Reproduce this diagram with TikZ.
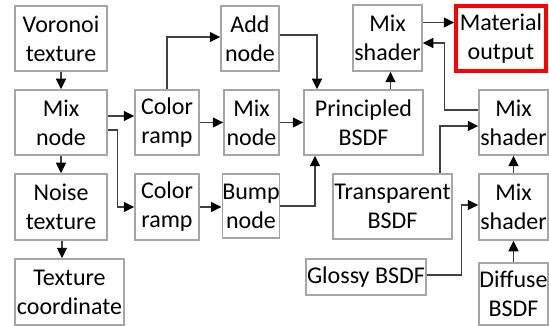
\documentclass[tikz,border=0pt]{standalone}
\usepackage{fontspec}
\setmainfont{Carlito}
\usetikzlibrary{arrows.meta}
\definecolor{boxgray}{HTML}{A6A6A6}
\definecolor{linegray}{HTML}{404040}
\tikzset{
  box/.style={draw=boxgray, line width=1.5pt, fill=white, inner sep=0pt,
    align=center, font=\fontsize{24}{29}\selectfont},
  outbox/.style={box, draw=red, line width=3.5pt},
  arr/.style={draw=linegray, line width=1.3pt,
    -{Triangle[length=10.5pt,width=10pt,fill=black,color=black]}},
}
\begin{document}
\begin{tikzpicture}[x=1pt,y=-1pt]
\useasboundingbox (0,0) rectangle (549,326);

% left column: textures
\node[box, minimum width=92, minimum height=65] (vor) at (61,38.5) {Voronoi\\texture};
\node[box, minimum width=92, minimum height=65] (mixl) at (61,122.5) {Mix\\node};
\node[box, minimum width=92, minimum height=66] (noise) at (61,207) {Noise\\texture};
\node[box, minimum width=109, minimum height=66] (tex) at (69.5,292) {Texture\\coordinate};

% color ramps
\node[box, minimum width=64, minimum height=65] (cr1) at (167,122.5) {Color\\ramp};
\node[box, minimum width=64, minimum height=66] (cr2) at (167,207) {Color\\ramp};

% intermediate nodes
\node[box, minimum width=58, minimum height=65] (add) at (250,38.5) {Add\\node};
\node[box, minimum width=55, minimum height=65] (mixm) at (251.5,122.5) {Mix\\node};
\node[box, minimum width=56, minimum height=64] (bump) at (251,206) {Bump\\node};

% shaders
\node[box, minimum width=119, minimum height=65] (princ) at (363.5,122.5) {Principled\\BSDF};
\node[box, minimum width=69, minimum height=66] (mixtop) at (387.5,38) {Mix\\shader};
\node[outbox, minimum width=90, minimum height=65] (mat) at (501,38.5) {Material\\output};
\node[box, minimum width=69, minimum height=65] (mixrt) at (513.5,122.5) {Mix\\shader};
\node[box, minimum width=119, minimum height=65] (trans) at (392.5,206.5) {Transparent\\BSDF};
\node[box, minimum width=69, minimum height=66] (mixrl) at (513.5,207) {Mix\\shader};
\node[box, minimum width=120, minimum height=36] (glossy) at (366,277) {Glossy BSDF};
\node[box, minimum width=69, minimum height=62] (diff) at (513.5,294) {Diffuse\\BSDF};

% texture chain
\draw[arr] (vor.south) -- (mixl.north);
\draw[arr] (mixl.south) -- (noise.north);
\draw[arr] ([xshift=1pt]noise.south) -- ([xshift=1pt]noise.south |- tex.north);

% mix node to color ramps
\draw[arr] ([yshift=6.5pt]mixl.east) -- ([yshift=6.5pt]mixl.east -| cr1.west);
\draw[arr] ([yshift=-7.5pt]mixl.east) -- ++(10,0) |- (cr2.west);

% color ramps onward
\draw[arr] (cr1.north) |- ([yshift=1.5pt]add.west);
\draw[arr] (cr1.east) -- (cr1.east -| mixm.west);
\draw[arr] (cr2.east) -- (cr2.east -| bump.west);

% into the principled BSDF
\draw[arr] ([yshift=3.5pt]add.east) -| ([xshift=-46.5pt]princ.north);
\draw[arr] (mixm.east) -- (mixm.east -| princ.west);
\draw[arr] (bump.east) -| ([xshift=-48.5pt]princ.south);

% shader mixing
\draw[arr] ([xshift=3pt]mixtop.south |- princ.north) -- ([xshift=3pt]mixtop.south);
\draw[arr] ([yshift=15.5pt]mixtop.east) -- ([yshift=15.5pt]mixtop.east -| mat.west);
\draw[arr] ([yshift=12.5pt]mixrt.west) -- ++(-34,0) |- ([yshift=-5pt]mixtop.east);
\draw[arr] ([xshift=47.5pt]trans.north) |- ([yshift=-3.5pt]mixrt.west);
\draw[arr] (mixrl.north) -- (mixrt.south);
\draw[arr] ([yshift=2pt]glossy.east) -- ++(35,0) |- ([yshift=2pt]mixrl.west);
\draw[arr] (diff.north) -- (mixrl.south);
\end{tikzpicture}
\end{document}
